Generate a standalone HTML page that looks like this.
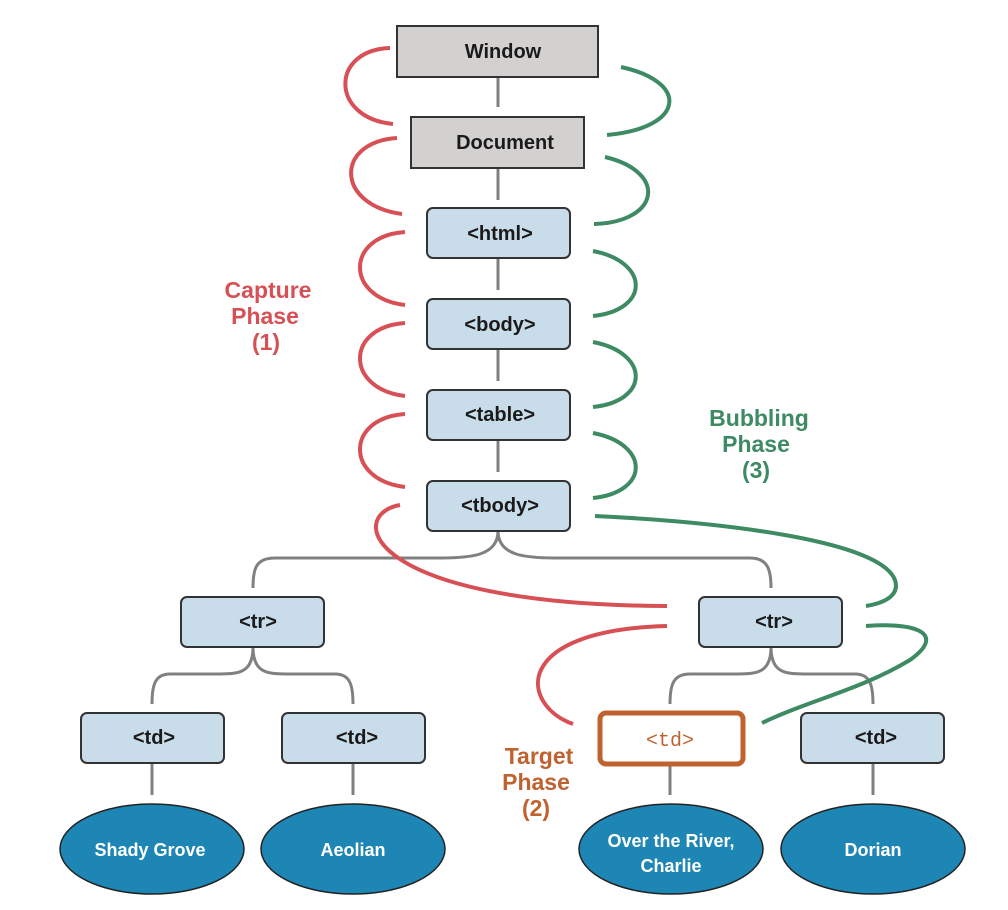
<!DOCTYPE html>
<html><head><meta charset="utf-8"><style>
html,body{margin:0;padding:0;background:#fff;}
svg{display:block;}
text{font-family:"Liberation Sans","DejaVu Sans",sans-serif;font-weight:bold;}
</style></head><body>
<svg width="1008" height="910" viewBox="0 0 1008 910" xmlns="http://www.w3.org/2000/svg">
<g fill="none" stroke="#808080" stroke-width="3">
<path d="M498,77V107M498,168V200M498,258V290M498,349V381M498,440V472"/>
<path d="M498,531 C498,556 470,558 440,558 L275,558 C255,558 253,570 253,588"/>
<path d="M498,531 C498,556 526,558 556,558 L750,558 C768,558 771,570 771,588"/>
<path d="M253,647 C253,672 240,674 220,674 L170,674 C155,674 152,685 152,704"/>
<path d="M253,647 C253,672 266,674 286,674 L335,674 C350,674 353,685 353,704"/>
<path d="M771,647 C771,672 758,674 738,674 L690,674 C673,674 670,685 670,704"/>
<path d="M771,647 C771,672 784,674 804,674 L855,674 C870,674 873,685 873,704"/>
<path d="M152,763V795M353,763V795M670,766V795M873,763V795"/>
</g>
<g fill="none" stroke="#d65055" stroke-width="4" stroke-linecap="butt">
<path d="M390,48 C330,50 330,118 393,124"/>
<path d="M397,138 C335,142 335,205 402,214"/>
<path d="M405,232 C345,236 345,298 405,305"/>
<path d="M405,323 C345,327 345,389 405,396"/>
<path d="M405,414 C345,418 345,480 405,487"/>
<path d="M400,505 C345,515 365,605 667,606"/>
<path d="M667,626 C510,630 520,705 573,724"/>
</g>
<g fill="none" stroke="#3d8a63" stroke-width="4">
<path d="M621,67 C690,82 685,128 607,135"/>
<path d="M605,157 C668,172 660,222 594,224"/>
<path d="M593,251 C650,262 650,310 593,316"/>
<path d="M593,342 C650,353 650,401 593,407"/>
<path d="M593,433 C650,444 650,492 593,498"/>
<path d="M595,516 C720,522 880,540 895,580 C900,595 885,603 866,606"/>
<path d="M866,626 C920,622 945,635 910,660 C860,690 810,700 762,723"/>
</g>
<g stroke="#333" stroke-width="2">
<rect x="397" y="26" width="201" height="51" fill="#d3d1d0"/>
<rect x="411" y="117" width="173" height="51" fill="#d3d1d0"/>
<rect x="427" y="208" width="143" height="50" rx="6" fill="#c9dcea"/>
<rect x="427" y="299" width="143" height="50" rx="6" fill="#c9dcea"/>
<rect x="427" y="390" width="143" height="50" rx="6" fill="#c9dcea"/>
<rect x="427" y="481" width="143" height="50" rx="6" fill="#c9dcea"/>
<rect x="181" y="597" width="143" height="50" rx="6" fill="#c9dcea"/>
<rect x="699" y="597" width="143" height="50" rx="6" fill="#c9dcea"/>
<rect x="81" y="713" width="143" height="50" rx="6" fill="#c9dcea"/>
<rect x="282" y="713" width="143" height="50" rx="6" fill="#c9dcea"/>
<rect x="801" y="713" width="143" height="50" rx="6" fill="#c9dcea"/>
</g>
<rect x="600" y="713" width="143" height="51" rx="6" fill="#fff" stroke="#c0622f" stroke-width="5"/>
<g fill="#1e86b5" stroke="#222" stroke-width="1.5">
<ellipse cx="152" cy="849" rx="92" ry="45"/>
<ellipse cx="353" cy="849" rx="92" ry="45"/>
<ellipse cx="671" cy="849" rx="92" ry="45"/>
<ellipse cx="873" cy="849" rx="92" ry="45"/>
</g>
<g font-size="20" fill="#1a1a1a" text-anchor="middle">
<text x="503" y="58">Window</text>
<text x="505" y="149">Document</text>
<text x="500" y="240">&lt;html&gt;</text>
<text x="500" y="331">&lt;body&gt;</text>
<text x="500" y="421">&lt;table&gt;</text>
<text x="500" y="512">&lt;tbody&gt;</text>
<text x="258" y="628">&lt;tr&gt;</text>
<text x="774" y="628">&lt;tr&gt;</text>
<text x="154" y="744">&lt;td&gt;</text>
<text x="357" y="744">&lt;td&gt;</text>
<text x="876" y="744">&lt;td&gt;</text>
</g>
<text x="670" y="746" font-size="20" fill="#c0622f" text-anchor="middle" style="font-family:'Liberation Mono',monospace;font-weight:normal">&lt;td&gt;</text>
<g font-size="18" fill="#fff" text-anchor="middle">
<text x="150" y="856">Shady Grove</text>
<text x="353" y="856">Aeolian</text>
<text x="671" y="847">Over the River,</text>
<text x="671" y="872">Charlie</text>
<text x="873" y="856">Dorian</text>
</g>
<g font-size="23" fill="#d65055" text-anchor="middle">
<text x="268" y="298">Capture</text><text x="265" y="324">Phase</text><text x="266" y="350">(1)</text>
</g>
<g font-size="23" fill="#3d8a63" text-anchor="middle">
<text x="759" y="426">Bubbling</text><text x="756" y="452">Phase</text><text x="756" y="478">(3)</text>
</g>
<g font-size="23" fill="#c0622f" text-anchor="middle">
<text x="539" y="764">Target</text><text x="536" y="790">Phase</text><text x="536" y="816">(2)</text>
</g>
</svg>
</body></html>
